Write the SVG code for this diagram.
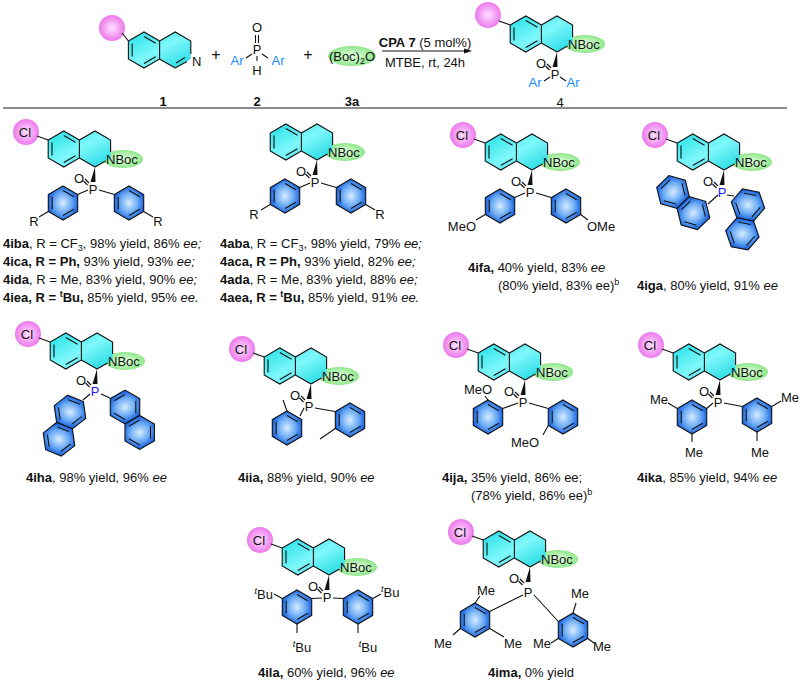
<svg xmlns="http://www.w3.org/2000/svg" xmlns:xlink="http://www.w3.org/1999/xlink" width="800" height="680" viewBox="0 0 800 680">
<style>
text{font-family:"Liberation Sans",Arial,sans-serif;font-size:13px;fill:#111}
.b{font-weight:bold}.i{font-style:italic}
.bl{fill:#1a8cff}.pb{fill:#1a1aff}
.ln{stroke:#111;stroke-width:1.1;fill:none}
</style>
<defs>
<linearGradient id="cy" x1="0" y1="0" x2="1" y2="1"><stop offset="0" stop-color="#1fe0e8"/><stop offset="0.5" stop-color="#7ff8fa"/><stop offset="1" stop-color="#18d6e2"/></linearGradient>
<radialGradient id="bg"><stop offset="0" stop-color="#d6ecff"/><stop offset="0.6" stop-color="#6aaaf5"/><stop offset="1" stop-color="#1d66e0"/></radialGradient>
<radialGradient id="pk"><stop offset="0" stop-color="#ffe0ff"/><stop offset="1" stop-color="#ec78ec"/></radialGradient>
<radialGradient id="gr"><stop offset="0" stop-color="#e4ffe0"/><stop offset="1" stop-color="#8fe68a"/></radialGradient>
<g id="bz">
<polygon points="0,-17 14.7,-8.5 14.7,8.5 0,17 -14.7,8.5 -14.7,-8.5" fill="url(#bg)" stroke="#111" stroke-width="1.1"/>
<path class="ln" d="M0,-12.5 L10.8,-6.2 M10.8,6.2 L0,12.5 M-10.8,6.2 L-10.8,-6.2"/>
</g>
<g id="np"><use href="#bz"/><use href="#bz" x="29.4"/></g>
<g id="core">
<ellipse cx="28" cy="-8" rx="20" ry="9" fill="url(#gr)"/>
<polygon points="-31.2,-36 -15.6,-27 0,-36 15.6,-27 15.6,-9 0,0 -15.6,-9 -31.2,0 -46.8,-9 -46.8,-27" fill="url(#cy)"/>
<path class="ln" d="M-15.6,-27 L-31.2,-36 L-46.8,-27 L-46.8,-9 L-31.2,0 L-15.6,-9 Z M-15.6,-27 L0,-36 L15.6,-27 L15.6,-15 M0,0 L10.5,-6 M0,0 L-15.6,-9 M-43,-24.5 L-43,-11.5 M-31.2,-31.5 L-19.5,-24.8 M-31.2,-4.5 L-19.5,-11.2"/>
<text x="11" y="-3">NBoc</text>
<polygon points="0,0 -4.5,15 0.5,15" fill="#111"/>
</g>
<g id="cl">
<circle cx="-69" cy="-35" r="13" fill="url(#pk)"/>
<line class="ln" x1="-58" y1="-31" x2="-46.8" y2="-27"/>
<text x="-70" y="-30" text-anchor="middle">Cl</text>
</g>
<g id="po">
<text x="-16" y="16" text-anchor="middle">O</text>
<path class="ln" d="M-10,12 L-6,16 M-11.5,14 L-7.5,18"/>
</g>
</defs>

<!-- header -->
<g id="r1">
<circle cx="112" cy="28" r="13" fill="url(#pk)"/>
<polygon points="144,32 159.6,41 175.2,32 190.8,41 190.8,59 175.2,68 159.6,59 144,68 128.4,59 128.4,41" fill="url(#cy)"/>
<path class="ln" d="M122,33 L128.4,41 M159.6,41 L144,32 L128.4,41 L128.4,59 L144,68 L159.6,59 Z M159.6,41 L175.2,32 L190.8,41 L190.8,54 M175.2,68 L159.6,59 M175.2,68 L187,61.5 M176,63 L185,57.5 M132.2,43.5 L132.2,56.5 M144,36.5 L155.7,43.3 M144,63.5 L155.7,56.7"/>
<text x="192" y="66">N</text>
<text x="163" y="106" class="b" text-anchor="middle">1</text>
</g>
<text x="216" y="60" text-anchor="middle" style="font-size:16px">+</text>
<g id="r2">
<text x="257" y="32" text-anchor="middle">O</text>
<path class="ln" d="M255.5,35 L255.5,43 M258.5,35 L258.5,43 M252,54 L246,58 M262,54 L268,58 M257,56 L257,61"/>
<text x="257" y="54" text-anchor="middle">P</text>
<text x="257" y="75" text-anchor="middle">H</text>
<text x="237" y="65" class="bl" text-anchor="middle">Ar</text>
<text x="278" y="65" class="bl" text-anchor="middle">Ar</text>
<text x="257" y="106" class="b" text-anchor="middle">2</text>
</g>
<text x="308" y="60" text-anchor="middle" style="font-size:16px">+</text>
<g id="r3">
<ellipse cx="352" cy="56" rx="24" ry="10" fill="url(#gr)"/>
<text x="352" y="61" text-anchor="middle">(Boc)<tspan style="font-size:9px" dy="3">2</tspan><tspan dy="-3">O</tspan></text>
<text x="352" y="106" class="b" text-anchor="middle">3a</text>
</g>
<g id="arrow">
<line class="ln" x1="382" y1="51" x2="468" y2="51"/>
<polygon points="472,51 464,48.5 464,53.5" fill="#111"/>
<text x="425" y="47" text-anchor="middle"><tspan class="b">CPA 7</tspan> (5 mol%)</text>
<text x="425" y="67" text-anchor="middle">MTBE, rt, 24h</text>
</g>
<g id="p4" transform="translate(557,52)">
<use href="#core"/>
<circle cx="-69" cy="-37" r="13" fill="url(#pk)"/>
<line class="ln" x1="-58" y1="-31" x2="-46.8" y2="-27"/>
<use href="#po"/>
<text x="-2" y="27" text-anchor="middle">P</text>
<path class="ln" d="M-7,25 L-13,29 M3,25 L9,29"/>
<text x="-22" y="35" class="bl" text-anchor="middle">Ar</text>
<text x="16" y="35" class="bl" text-anchor="middle">Ar</text>
<text x="3" y="55" text-anchor="middle">4</text>
</g>
<line x1="3" y1="108" x2="787" y2="108" stroke="#666" stroke-width="1.5"/>

<!-- 4iba -->
<g id="n4iba" transform="translate(95,167)">
<use href="#core"/><use href="#cl"/><use href="#po"/>
<text x="-2" y="27" text-anchor="middle">P</text>
<use href="#bz" x="-32" y="36"/><use href="#bz" x="34" y="36"/>
<path class="ln" d="M-7,23 L-17.3,27.5 M4,23 L19.3,27.5 M-46.7,44.5 L-56,50 M48.7,44.5 L58,50"/>
<text x="-61" y="59" text-anchor="middle">R</text>
<text x="63" y="59" text-anchor="middle">R</text>
</g>
<g id="t1">
<text x="3" y="248"><tspan class="b">4iba</tspan>, R = CF<tspan style="font-size:9px" dy="3">3</tspan><tspan dy="-3">, 98% yield, 86% </tspan><tspan class="i">ee;</tspan></text>
<text x="3" y="266"><tspan class="b">4ica, R = Ph,</tspan> 93% yield, 93% <tspan class="i">ee;</tspan></text>
<text x="3" y="284"><tspan class="b">4ida</tspan>, R = Me, 83% yield, 90% <tspan class="i">ee;</tspan></text>
<text x="3" y="302"><tspan class="b">4iea, R = <tspan style="font-size:9px" dy="-5">t</tspan><tspan dy="5">Bu,</tspan></tspan> 85% yield, 95% <tspan class="i">ee.</tspan></text>
</g>

<!-- 4aba -->
<g id="n4aba" transform="translate(317,160)">
<use href="#core"/><use href="#po"/>
<text x="-2" y="27" text-anchor="middle">P</text>
<use href="#bz" x="-32" y="36"/><use href="#bz" x="34" y="36"/>
<path class="ln" d="M-7,23 L-17.3,27.5 M4,23 L19.3,27.5 M-46.7,44.5 L-56,50 M48.7,44.5 L58,50"/>
<text x="-63" y="59" text-anchor="middle">R</text>
<text x="63" y="59" text-anchor="middle">R</text>
</g>
<g id="t2">
<text x="220" y="248"><tspan class="b">4aba</tspan>, R = CF<tspan style="font-size:9px" dy="3">3</tspan><tspan dy="-3">, 98% yield, 79% </tspan><tspan class="i">ee;</tspan></text>
<text x="220" y="266"><tspan class="b">4aca, R = Ph,</tspan> 93% yield, 82% <tspan class="i">ee;</tspan></text>
<text x="220" y="284"><tspan class="b">4ada</tspan>, R = Me, 83% yield, 88% <tspan class="i">ee;</tspan></text>
<text x="220" y="302"><tspan class="b">4aea, R = <tspan style="font-size:9px" dy="-5">t</tspan><tspan dy="5">Bu,</tspan></tspan> 85% yield, 91% <tspan class="i">ee.</tspan></text>
</g>

<!-- 4ifa -->
<g id="n4ifa" transform="translate(532,170)">
<use href="#core"/><use href="#cl"/><use href="#po"/>
<text x="-2" y="27" text-anchor="middle">P</text>
<use href="#bz" x="-32" y="36"/><use href="#bz" x="34" y="36"/>
<path class="ln" d="M-7,23 L-17.3,27.5 M4,23 L19.3,27.5 M-46.7,44.5 L-56,50 M48.7,44.5 L56,50"/>
<text x="-56" y="61" text-anchor="end">MeO</text>
<text x="55" y="61">OMe</text>
</g>
<text x="468" y="272"><tspan class="b">4ifa,</tspan> 40% yield, 83% <tspan class="i">ee</tspan></text>
<text x="498" y="290">(80% yield, 83% ee)<tspan style="font-size:9px" dy="-5">b</tspan></text>

<!-- 4iga -->
<g id="n4iga" transform="translate(724,170)">
<use href="#core"/><use href="#cl"/><use href="#po"/>
<text x="-2" y="27" text-anchor="middle" class="pb">P</text>
<use href="#np" transform="translate(-51,22) rotate(46)"/>
<use href="#np" transform="translate(24,35) rotate(101)"/>
<path class="ln" d="M-6,25 L-16,34 M3,25 L10,26"/>
</g>
<text x="637" y="290"><tspan class="b">4iga</tspan>, 80% yield, 91% <tspan class="i">ee</tspan></text>

<!-- 4iha -->
<g id="n4iha" transform="translate(97,369)">
<use href="#core"/><use href="#cl"/><use href="#po"/>
<text x="-2" y="27" text-anchor="middle" class="pb">P</text>
<use href="#np" transform="translate(-27,43) rotate(112)"/>
<use href="#np" transform="translate(28,38) rotate(60)"/>
<path class="ln" d="M-7,25 L-14,31 M4,25 L13,29"/>
</g>
<text x="26" y="482"><tspan class="b">4iha</tspan>, 98% yield, 96% <tspan class="i">ee</tspan></text>

<!-- 4iia -->
<g id="n4iia" transform="translate(311,384)">
<use href="#core"/><use href="#cl"/><use href="#po"/>
<text x="-2" y="27" text-anchor="middle">P</text>
<use href="#bz" x="-24" y="44"/><use href="#bz" x="39" y="36"/>
<path class="ln" d="M-7,24 L-11,32 M4,24 L24.3,27.5 M-24,27 L-28,16 M24.3,44.5 L9,55"/>
</g>
<text x="238" y="482"><tspan class="b">4iia,</tspan> 88% yield, 90% <tspan class="i">ee</tspan></text>

<!-- 4ija -->
<g id="n4ija" transform="translate(525,380)">
<use href="#core"/><use href="#cl"/><use href="#po"/>
<text x="-2" y="27" text-anchor="middle">P</text>
<use href="#bz" x="-37" y="37"/><use href="#bz" x="38" y="37"/>
<path class="ln" d="M-7,23 L-22.3,28.5 M4,23 L23.3,28.5 M-37,20 L-40,16 M23.3,45.5 L18,55"/>
<text x="-47" y="14" text-anchor="middle">MeO</text>
<text x="0" y="67" text-anchor="middle">MeO</text>
</g>
<text x="442" y="482"><tspan class="b">4ija,</tspan> 35% yield, 86% ee;</text>
<text x="471" y="500">(78% yield, 86% ee)<tspan style="font-size:9px" dy="-5">b</tspan></text>

<!-- 4ika -->
<g id="n4ika" transform="translate(720,380)">
<use href="#core"/><use href="#cl"/><use href="#po"/>
<text x="-2" y="27" text-anchor="middle">P</text>
<use href="#bz" x="-28" y="37"/><use href="#bz" x="37" y="35"/>
<path class="ln" d="M-7,23 L-13.3,28.5 M4,23 L22.3,26.5 M-42.7,28.5 L-52,23 M51.7,26.5 L61,21 M-28,54 L-28,62 M37,52 L37,61"/>
<text x="-52" y="24" text-anchor="end">Me</text>
<text x="61" y="22">Me</text>
<text x="-26" y="77" text-anchor="middle">Me</text>
<text x="40" y="77" text-anchor="middle">Me</text>
</g>
<text x="637" y="482"><tspan class="b">4ika</tspan>, 85% yield, 94% <tspan class="i">ee</tspan></text>

<!-- 4ila -->
<g id="n4ila" transform="translate(329,575)">
<use href="#core"/><use href="#cl"/><use href="#po"/>
<text x="-2" y="27" text-anchor="middle">P</text>
<use href="#bz" x="-32" y="32"/><use href="#bz" x="29" y="32"/>
<path class="ln" d="M-7,23 L-17.3,23.5 M4,23 L14.3,23.5 M-46.7,23.5 L-55,19 M43.7,23.5 L52,19 M-32,49 L-32,58 M29,49 L29,58"/>
<text x="-56" y="24" text-anchor="end"><tspan class="i" style="font-size:9px" dy="-5">t</tspan><tspan dy="5">Bu</tspan></text>
<text x="52" y="22"><tspan class="i" style="font-size:9px" dy="-5">t</tspan><tspan dy="5">Bu</tspan></text>
<text x="-27" y="77" text-anchor="middle"><tspan class="i" style="font-size:9px" dy="-5">t</tspan><tspan dy="5">Bu</tspan></text>
<text x="39" y="77" text-anchor="middle"><tspan class="i" style="font-size:9px" dy="-5">t</tspan><tspan dy="5">Bu</tspan></text>
</g>
<text x="258" y="677"><tspan class="b">4ila,</tspan> 60% yield, 96% <tspan class="i">ee</tspan></text>

<!-- 4ima -->
<g id="n4ima" transform="translate(530,567)">
<use href="#core"/><use href="#cl"/><use href="#po"/>
<text x="-2" y="30" text-anchor="middle">P</text>
<use href="#bz" x="-55" y="53"/><use href="#bz" x="43" y="63"/>
<path class="ln" d="M-7,28 L-40.3,44.5 M4,28 L28.3,54.5 M-55,36 L-50,29 M-40.3,61.5 L-26,70 M-69.7,61.5 L-77,68 M43,46 L46,36 M28.3,71.5 L21,76 M57.7,71.5 L64,76"/>
<text x="-44" y="28" text-anchor="middle">Me</text>
<text x="-26" y="81">Me</text>
<text x="-78" y="81" text-anchor="end">Me</text>
<text x="50" y="31" text-anchor="middle">Me</text>
<text x="21" y="81" text-anchor="end">Me</text>
<text x="63" y="84">Me</text>
</g>
<text x="488" y="677"><tspan class="b">4ima,</tspan> 0% yield</text>
</svg>
